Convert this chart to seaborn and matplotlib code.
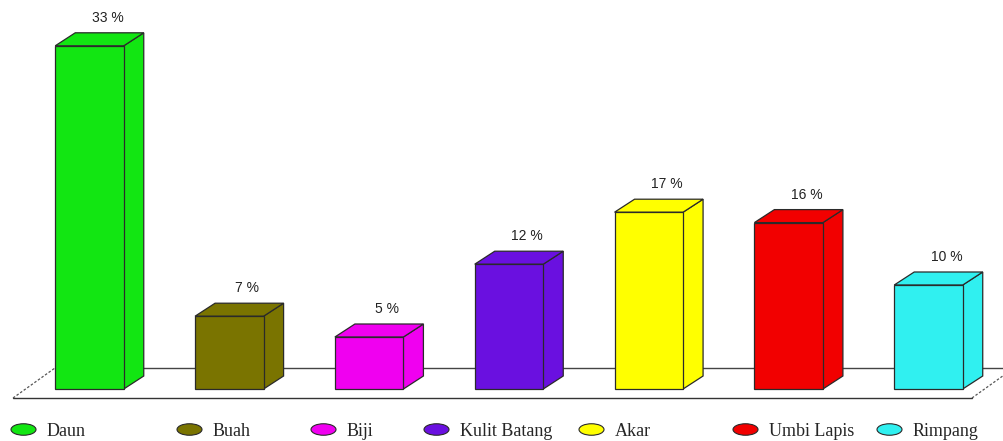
import numpy as np
import matplotlib
matplotlib.use("Agg")
import matplotlib.pyplot as plt
from matplotlib.path import Path
from matplotlib.lines import Line2D
from matplotlib.patches import Polygon
import seaborn as sns

# ---- data ----
categories = ["Daun", "Buah", "Biji", "Kulit Batang", "Akar", "Umbi Lapis", "Rimpang"]
values = [33, 7, 5, 12, 17, 16, 10]
labels = [f"{v} %" for v in values]
colors = ["#12e612", "#7a7400", "#f000f0", "#6a10e0", "#ffff00", "#f20000", "#30f0f0"]

sns.set_theme(style="white")
plt.rcParams["font.family"] = ["Liberation Sans", "DejaVu Sans"]

W, H, DPI = 1004, 441, 100
fig = plt.figure(figsize=(W / DPI, H / DPI), dpi=DPI)
ax = fig.add_axes([0, 0, 1, 1])

px_x = 139.83   # pixels per category unit
px_y = 10.4     # pixels per value unit
ax.set_xlim(-89.5 / px_x, (W - 89.5) / px_x)
ax.set_ylim(-52 / px_y, (H - 52) / px_y)

edge = "#2a2a2a"
# floor (back line behind bars)
fy_front, fy_back = -0.865, 2.02
ax.plot([-0.247, 6.7], [fy_back, fy_back], color="#444444", lw=1.0, zorder=0.5)
ax.plot([-0.547, 6.311], [fy_front, fy_front], color="#333333", lw=1.0, zorder=0.5)
ax.plot([-0.547, -0.247], [fy_front, fy_back], color="#555555", lw=0.9, ls=(0, (2, 1.5)), zorder=0.5)
ax.plot([6.311, 6.611], [fy_front, fy_back], color="#555555", lw=0.9, ls=(0, (2, 1.5)), zorder=0.5)

sns.barplot(x=categories, y=values, hue=categories, palette=colors, order=categories,
            hue_order=categories, width=0.49, edgecolor=edge, linewidth=0.9,
            legend=False, saturation=1, ax=ax, zorder=3)

ax.set_xlim(-89.5 / px_x, (W - 89.5) / px_x)
ax.set_ylim(-52 / px_y, (H - 52) / px_y)
ax.set_axis_off()

dx = 20 / px_x
dy = 13 / px_y
for p in ax.patches:
    x0 = p.get_x()
    w = p.get_width()
    x1 = x0 + w
    v = p.get_height()
    if w <= 0:
        continue
    i = int(round(x0 + w / 2))
    col = colors[i]
    side = Polygon([(x1, 0), (x1 + dx, dy), (x1 + dx, v + dy), (x1, v)], closed=True,
                   facecolor=col, edgecolor=edge, lw=0.9, zorder=2.9)
    top = Polygon([(x0, v), (x0 + dx, v + dy), (x1 + dx, v + dy), (x1, v)], closed=True,
                  facecolor=col, edgecolor=edge, lw=0.9, zorder=2.9)
    ax.add_patch(side)
    ax.add_patch(top)
    ax.text(x0 + w / 2 + dx * 0.9, v + dy + 1.45, labels[i], ha="center", va="center",
            fontsize=10, color="#222222", zorder=5)

# legend with elliptical markers
circ = Path.unit_circle()
ell = Path(circ.vertices * np.array([1.0, 0.46]), circ.codes)
legend_x = [10, 176, 310, 423, 578, 732, 876]
for i, cat in enumerate(categories):
    h = Line2D([], [], ls="none", marker=ell, markersize=18, markerfacecolor=colors[i],
               markeredgecolor=edge, markeredgewidth=0.8)
    fig.legend(handles=[h], labels=[cat], loc="center left",
               bbox_to_anchor=(legend_x[i] / W, 10 / H), frameon=False,
               borderpad=0, borderaxespad=0, handlelength=1.45, handletextpad=0.6,
               prop={"family": "Liberation Serif", "size": 13})

fig.savefig("out.png", dpi=DPI)
